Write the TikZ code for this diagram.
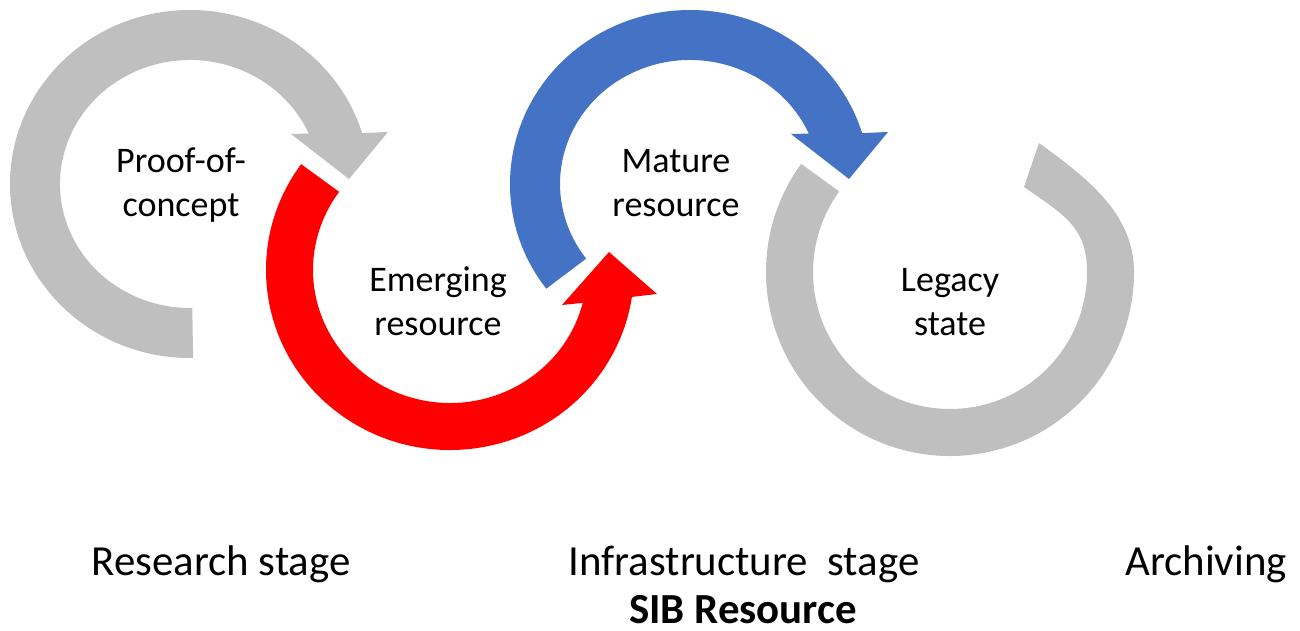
\documentclass[tikz,border=0pt]{standalone}
\usepackage{fontspec}
\setmainfont{Carlito}
\definecolor{arcgray}{HTML}{BFBFBF}
\definecolor{arcred}{HTML}{FF0000}
\definecolor{arcblue}{HTML}{4472C4}

\begin{document}
\begin{tikzpicture}[x=0.02cm,y=-0.02cm,every node/.style={inner sep=0pt,align=center},
  stagetext/.style={font=\fontsize{20.5}{25}\selectfont},
  bottomtext/.style={font=\fontsize{24.4}{29}\selectfont,anchor=base}]
  \useasboundingbox (0,0) rectangle (1300,631);

  % research stage ring
  \begin{scope}[shift={(190,184)}]
    \fill[arcgray] (89:130 and 124) -- (89:180 and 174) arc[start angle=89,end angle=343,x radius=180,y radius=174]
      -- (198,-52) -- (159,-5) -- (101,-50) -- (336:130 and 124)
      arc[start angle=336,end angle=89,x radius=130,y radius=124] -- cycle;
  \end{scope}

  % emerging ring
  \begin{scope}[shift={(450,270)}]
    \fill[arcred] (216:137 and 133) -- (216:184 and 180) arc[start angle=216,end angle=8.6,x radius=184,y radius=180]
      -- (207,24) -- (159,-18) -- (112,35) -- (14.3:137 and 133)
      arc[start angle=14.3,end angle=216,x radius=137,y radius=133] -- cycle;
  \end{scope}

  % mature ring
  \begin{scope}[shift={(690,184)}]
    \fill[arcblue] (143:130 and 124) -- (143:180 and 174) arc[start angle=143,end angle=343,x radius=180,y radius=174]
      -- (198,-52) -- (159,-5) -- (101,-50) -- (336:130 and 124)
      arc[start angle=336,end angle=143,x radius=130,y radius=124] -- cycle;
  \end{scope}

  % legacy ring, no head
  \begin{scope}[shift={(950,272)}]
    \fill[arcgray] (216:137) -- (216:184) arc[start angle=216,end angle=0,radius=184]
      .. controls (184,-60) and (134,-96) .. (89,-129) -- (74,-85)
      .. controls (114,-57) and (137,-45) .. (137,0) arc[start angle=0,end angle=216,radius=137] -- cycle;
  \end{scope}

  \node[stagetext] (poc) at (181,185) {Proof-of-\\concept};
  \node[stagetext] (emerg) at (438,301) {Emerging\\resource};
  \node[stagetext] (mature) at (676,183) {Mature\\resource};
  \node[stagetext] (legacy) at (950,302) {Legacy\\state};

  \node[bottomtext] (research) at (221,575) {Research stage};
  \node[bottomtext] (infra) at (744,575) {Infrastructure\ \ stage};
  \node[bottomtext] (archiv) at (1206,575) {Archiving};
  \node[bottomtext,font=\fontsize{24.4}{29}\selectfont\bfseries] (sib) at (743,623) {SIB Resource};
\end{tikzpicture}
\end{document}
